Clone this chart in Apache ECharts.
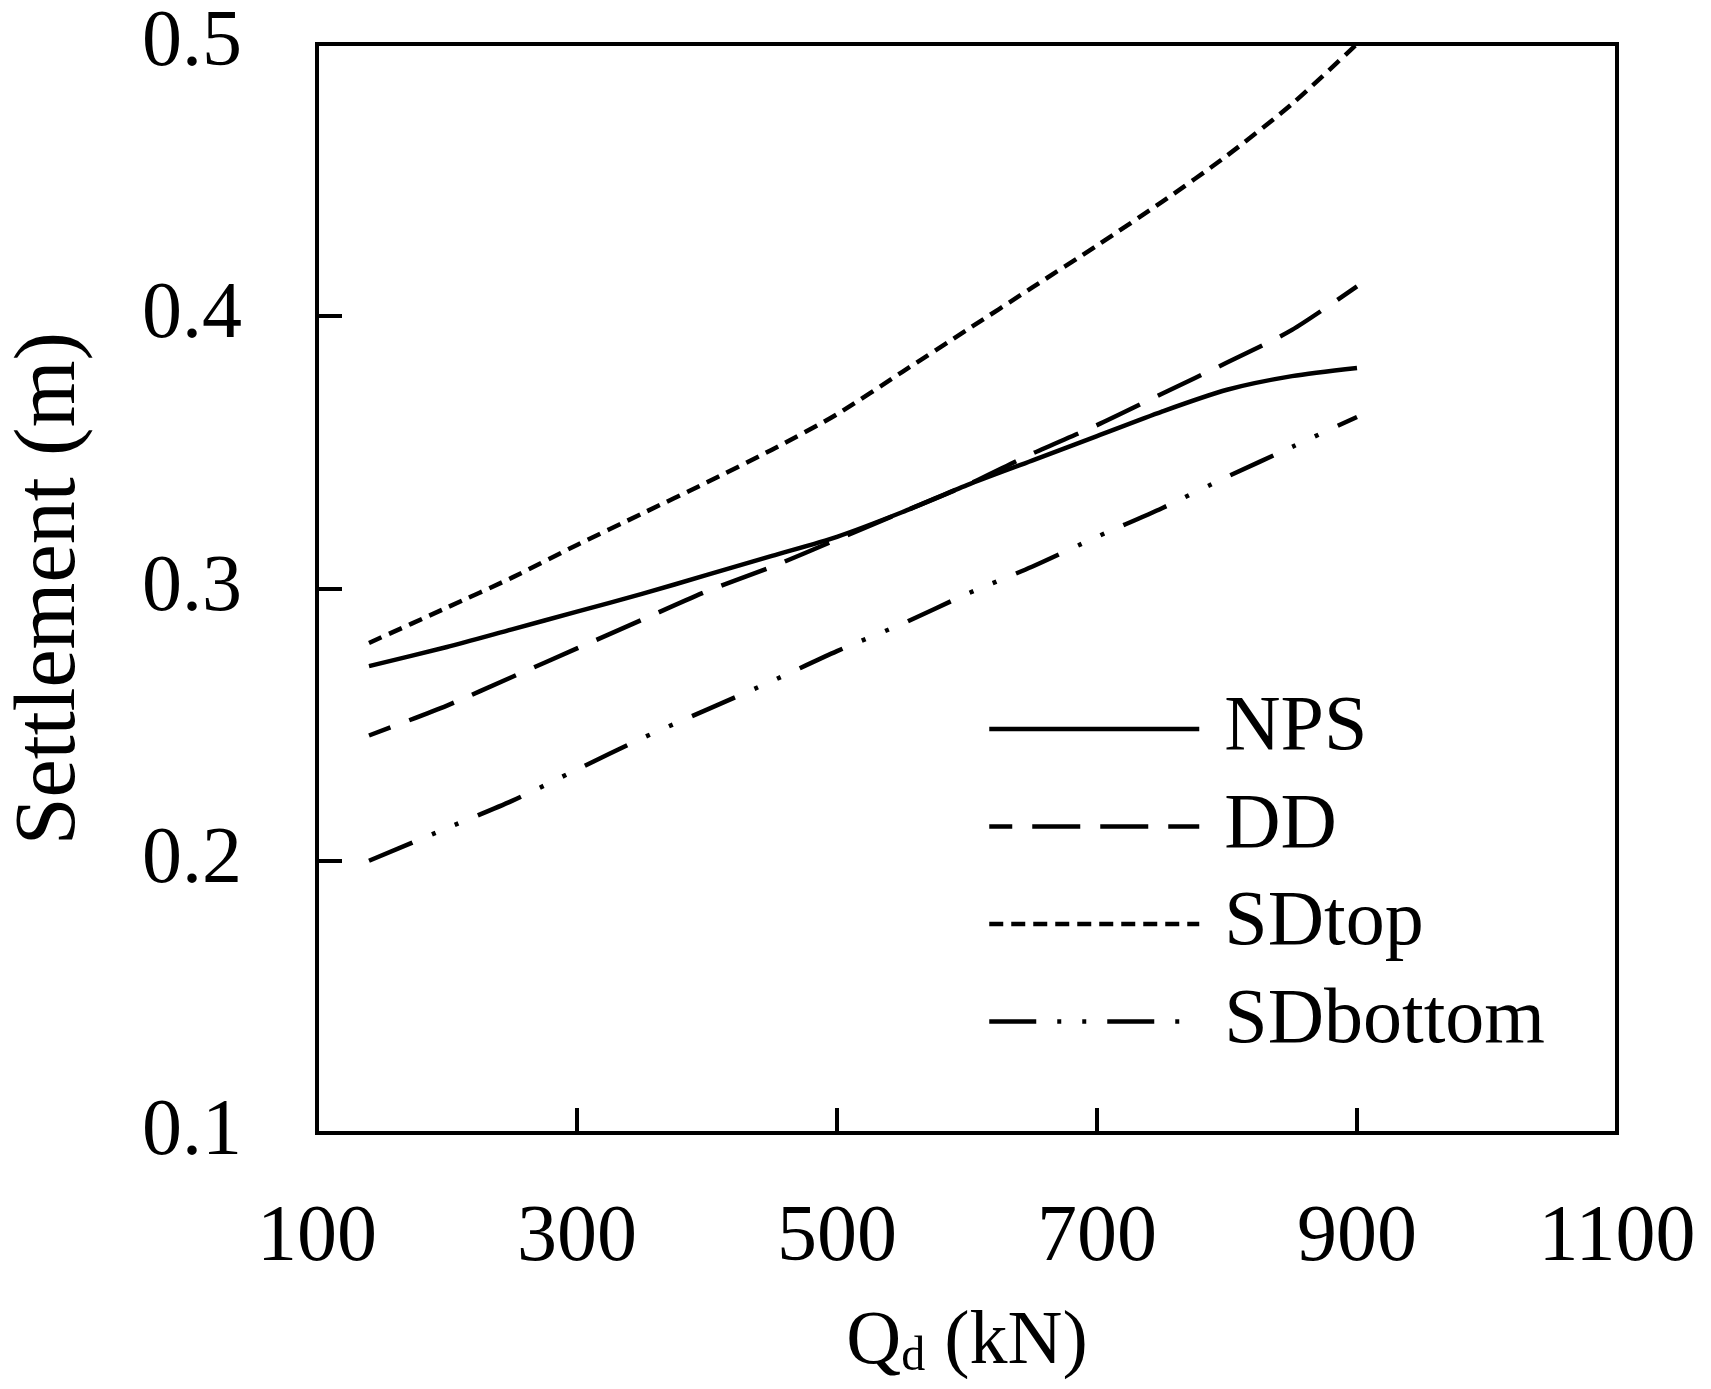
<!DOCTYPE html>
<html><head><meta charset="utf-8">
<script src="https://cdn.jsdelivr.net/npm/echarts@6/dist/echarts.min.js"></script>
<style>html,body{margin:0;padding:0;background:#fff}#c{width:1711px;height:1389px}</style>
</head><body><div id="c"></div>
<script>
// Qd (kN)
const qd = [140, 200, 250, 300, 350, 400, 450, 500, 550, 600, 650, 700, 750, 800, 850, 900];
// Settlement (m)
const nps      = [0.2715, 0.2785, 0.285, 0.2915, 0.298, 0.305, 0.312, 0.319, 0.328, 0.338, 0.347, 0.356, 0.365, 0.373, 0.378, 0.381];
const dd       = [0.246, 0.257, 0.2675, 0.278, 0.2885, 0.299, 0.308, 0.318, 0.328, 0.338, 0.3495, 0.360, 0.3715, 0.383, 0.395, 0.411];
const sdTop    = [0.280, 0.293, 0.304, 0.316, 0.3275, 0.339, 0.351, 0.364, 0.3795, 0.395, 0.4105, 0.426, 0.442, 0.459, 0.478, 0.500];
const sdBottom = [0.200, 0.212, 0.222, 0.2335, 0.245, 0.2555, 0.266, 0.277, 0.287, 0.298, 0.308, 0.319, 0.3295, 0.341, 0.352, 0.363];
const seriesNames = ['NPS', 'DD', 'SDtop', 'SDbottom'];
const xTicks = [100, 300, 500, 700, 900, 1100];
const yTicks = [0.1, 0.2, 0.3, 0.4, 0.5];

const FONT = 'Liberation Serif';
const LW = 4.5;
const dashes = {
  NPS: 'solid',
  DD: [48, 20],
  SDtop: [14, 8],
  SDbottom: [47, 21, 4, 21, 4, 21]
};
const dashOffsets = { NPS: 0, DD: 25, SDtop: 0, SDbottom: 0 };
const values = { NPS: nps, DD: dd, SDtop: sdTop, SDbottom: sdBottom };

const chart = echarts.init(document.getElementById('c'), null, { renderer: 'canvas' });
chart.setOption({
  backgroundColor: '#fff',
  animation: false,
  grid: { left: 317, right: 94, top: 44, bottom: 256, show: true, borderColor: '#000', borderWidth: 4,
          containLabel: false, outerBoundsMode: 'none' },
  xAxis: {
    type: 'value', min: xTicks[0], max: xTicks[xTicks.length - 1], interval: 200,
    name: '{q|Q}{d|d}{q| (kN)}', nameLocation: 'middle', nameGap: 172,
    nameTextStyle: {
      rich: {
        q: { fontFamily: FONT, fontSize: 76, color: '#000', lineHeight: 76 },
        d: { fontFamily: FONT, fontSize: 48, color: '#000', verticalAlign: 'bottom', lineHeight: 76 }
      }
    },
    axisLine: { show: true, onZero: false, lineStyle: { color: '#000', width: 4 } },
    axisTick: { show: true, inside: true, length: 25, lineStyle: { color: '#000', width: 4 } },
    splitLine: { show: false },
    axisLabel: { fontFamily: FONT, fontSize: 80, color: '#000', margin: 66, formatter: v => String(v) }
  },
  yAxis: {
    type: 'value', min: yTicks[0], max: yTicks[yTicks.length - 1], interval: 0.1,
    name: 'Settlement (m)', nameLocation: 'middle', nameGap: 223,
    nameTextStyle: { fontFamily: FONT, fontSize: 86, color: '#000' },
    axisLine: { show: true, onZero: false, lineStyle: { color: '#000', width: 4 } },
    axisTick: { show: true, inside: true, length: 25, lineStyle: { color: '#000', width: 4 } },
    splitLine: { show: false },
    axisLabel: { fontFamily: FONT, fontSize: 80, color: '#000', margin: 75, formatter: v => v.toFixed(1) }
  },
  legend: {
    orient: 'vertical', left: 987, top: 690, padding: 0,
    itemWidth: 210, itemHeight: 20, itemGap: 19.5,
    textStyle: { fontFamily: FONT, fontSize: 78, lineHeight: 78, color: '#000', padding: [0, 0, 0, 20] },
    lineStyle: { width: LW },
    itemStyle: { opacity: 0 },
    data: seriesNames
  },
  series: seriesNames.map(n => ({
    name: n, type: 'line', symbol: 'none', showSymbol: false,
    smooth: 0.25,
    lineStyle: { color: '#000', width: LW, type: dashes[n], dashOffset: dashOffsets[n], cap: 'butt', join: 'round' },
    itemStyle: { color: '#000' },
    data: qd.map((x, i) => [x, values[n][i]])
  }))
});
</script></body></html>
